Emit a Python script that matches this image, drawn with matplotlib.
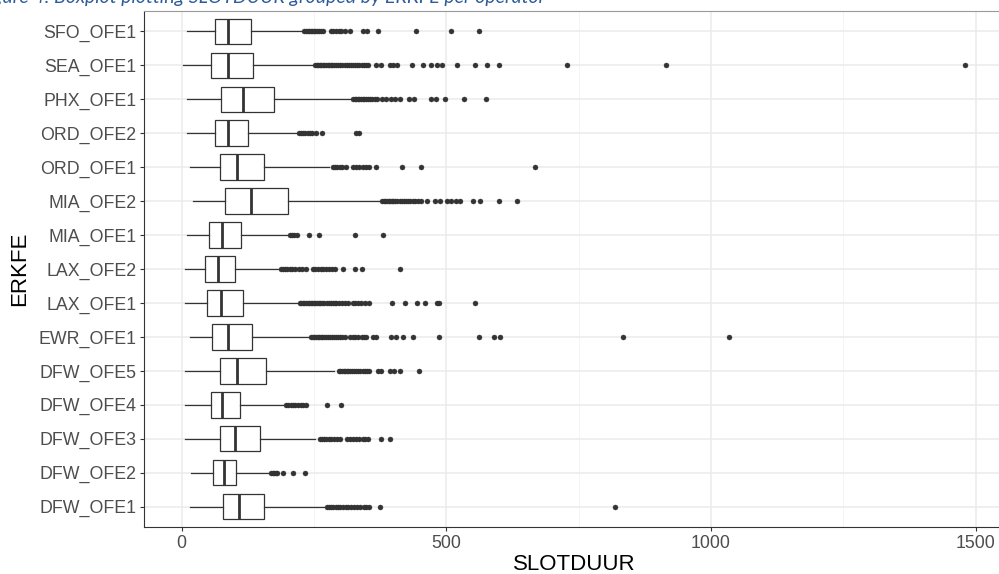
import matplotlib
matplotlib.use("Agg")
import matplotlib.pyplot as plt

plt.rcParams['font.family'] = ['Liberation Sans', 'DejaVu Sans']

# categories from bottom to top
labels = ['DFW_OFE1', 'DFW_OFE2', 'DFW_OFE3', 'DFW_OFE4', 'DFW_OFE5', 'EWR_OFE1',
          'LAX_OFE1', 'LAX_OFE2', 'MIA_OFE1', 'MIA_OFE2', 'ORD_OFE1', 'ORD_OFE2',
          'PHX_OFE1', 'SEA_OFE1', 'SFO_OFE1']

whislo = [16, 18, 5.7, 5.7, 5.7, 16, 5.7, 5.7, 9.5, 21, 16, 9.5, 9.5, 3, 9.5]
q1 = [79, 59, 72.6, 55.6, 73, 57, 48, 43.6, 52, 83, 73, 62.5, 74.5, 55, 62.5]
med = [109, 80, 101.6, 77, 105, 88, 74.5, 69, 76, 131, 105, 88, 115.5, 87, 87.8]
q3 = [156, 103, 148, 110.5, 159, 133, 117, 101, 113, 201, 156.6, 125, 174, 135, 130.7]
whishi = [270, 166, 252.5, 191, 288, 245, 220, 185, 204, 378, 278, 222, 324, 251, 229]

outliers = [
    # DFW_OFE1
    [275, 279, 283, 287, 291, 295, 300, 305, 310, 315, 320, 326, 332, 338, 344, 349, 354, 374, 818],
    # DFW_OFE2
    [169, 172, 175, 178, 180, 191, 210, 234],
    # DFW_OFE3
    [261, 265, 269, 273, 278, 283, 288, 293, 299, 312, 318, 324, 330, 336, 342, 347, 352, 376, 393],
    # DFW_OFE4
    [198, 202, 206, 210, 215, 220, 225, 230, 235, 275, 302],
    # DFW_OFE5
    [297, 300, 303, 306, 309, 312, 315, 318, 322, 326, 330, 334, 338, 342, 346, 350, 354,
     371, 377, 393, 401, 413, 448],
    # EWR_OFE1
    [245, 248, 251, 254, 257, 260, 263, 266, 269, 272, 276, 280, 284, 288, 292, 296, 300, 304, 308,
     318, 323, 328, 334, 340, 345, 349, 362, 368, 396, 405, 418, 437, 487, 562, 590, 601, 834, 1034],
    # LAX_OFE1
    [223, 226, 229, 232, 235, 238, 241, 244, 247, 250, 253, 256, 259, 262, 266, 270, 274, 278, 282, 286,
     289, 292, 297, 303, 309, 314, 323, 328, 333, 339, 346, 355, 398, 422, 444, 460, 482, 487, 554],
    # LAX_OFE2
    [187, 191, 195, 199, 204, 209, 215, 222, 228, 235, 248, 253, 258, 263, 268, 273, 279, 284, 289,
     305, 328, 341, 412],
    # MIA_OFE1
    [205, 209, 213, 218, 240, 259, 328, 381],
    # MIA_OFE2
    [379, 382, 385, 388, 391, 394, 397, 400, 404, 408, 412, 416, 420, 424, 428, 432, 437, 442, 447,
     453, 463, 479, 488, 501, 510, 518, 526, 551, 563, 599, 633],
    # ORD_OFE1
    [286, 290, 294, 299, 304, 310, 323, 330, 336, 342, 348, 355, 367, 417, 453, 667],
    # ORD_OFE2
    [222, 226, 230, 234, 238, 242, 247, 254, 265, 329, 336],
    # PHX_OFE1
    [324, 327, 330, 333, 336, 339, 342, 345, 348, 352, 356, 360, 365, 370, 378, 387, 395, 403, 413,
     430, 439, 472, 480, 497, 534, 576],
    # SEA_OFE1
    [252, 255, 258, 261, 264, 267, 270, 273, 276, 279, 282, 285, 288, 292, 296, 300, 304, 308, 312,
     316, 320, 324, 328, 332, 336, 340, 344, 348, 352, 367, 377, 393, 400, 407, 435, 456, 472, 482,
     492, 520, 555, 578, 600, 729, 915, 1480],
    # SFO_OFE1
    [232, 235, 238, 241, 244, 247, 250, 253, 256, 260, 264, 268, 282, 287, 292, 297, 302, 308, 318,
     343, 350, 371, 443, 510, 562],
]

stats = []
for i in range(len(labels)):
    stats.append(dict(whislo=whislo[i], q1=q1[i], med=med[i], q3=q3[i],
                      whishi=whishi[i], fliers=outliers[i], label=labels[i]))

fig = plt.figure(figsize=(9.99, 5.74), dpi=100)
ax = fig.add_axes([0.1441, 0.0819, 0.861, 0.8989])

dark = '#333333'
ax.bxp(stats, positions=range(1, 16), vert=False, widths=0.75, showcaps=False,
       patch_artist=True,
       boxprops=dict(facecolor='white', edgecolor=dark, linewidth=0.9),
       whiskerprops=dict(color=dark, linewidth=0.9),
       medianprops=dict(color=dark, linewidth=2.0),
       flierprops=dict(marker='o', markersize=3.6, markerfacecolor=dark,
                       markeredgecolor=dark, markeredgewidth=0.3, linestyle='none'))

ax.set_xlim(-71, 1554)
ax.set_ylim(0.4, 15.6)
ax.set_xticks([0, 500, 1000, 1500])
ax.set_xticks([250, 750, 1250], minor=True)
ax.set_yticks(range(1, 16))
ax.set_yticklabels(labels)

ax.set_axisbelow(True)
ax.grid(True, which='major', color='#EBEBEB', linewidth=1.1)
ax.grid(True, which='minor', axis='x', color='#F2F2F2', linewidth=0.6)
ax.tick_params(which='major', length=3, width=0.8, color=dark, labelsize=12.8,
               labelcolor='#4D4D4D', pad=2.5)
ax.tick_params(which='minor', length=0)
for s in ax.spines.values():
    s.set_color(dark)
    s.set_linewidth(0.8)
ax.spines['top'].set_color('#999999')

ax.set_xlabel('SLOTDUUR', fontsize=16, color='black', labelpad=2)
ax.set_ylabel('ERKFE', fontsize=16, color='black', labelpad=6)

# caption of the document, cut off at the top of the image
fig.text(-0.022, 0.994, 'Figure 4: Boxplot plotting SLOTDUUR grouped by ERKFE per operator',
         fontsize=14, style='italic', color='#2E5C9A', family=['Lato', 'DejaVu Sans'],
         ha='left', va='baseline')

fig.savefig('out.png', dpi=100)
